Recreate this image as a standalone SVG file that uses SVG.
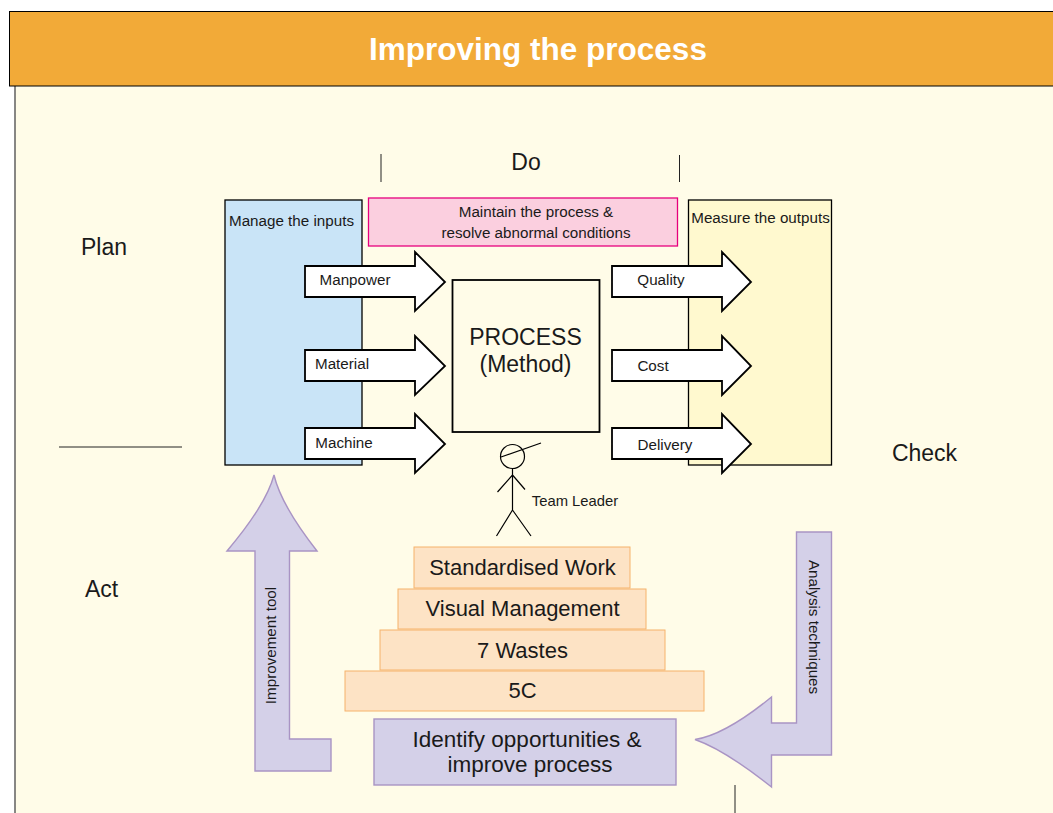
<svg xmlns="http://www.w3.org/2000/svg" width="1053" height="813" viewBox="0 0 1053 813">
<style>
text{font-family:"Liberation Sans",Arial,sans-serif;fill:#1a1a1a;text-anchor:middle}
.big{font-size:23px}
.mid{font-size:22px}
.lab{font-size:15.2px}
.sm{font-size:15.2px}
.arrow{fill:#fff;stroke:#000;stroke-width:1.800}
.step{fill:#fde3c5;stroke:#f6b26b;stroke-width:1}
.pur{fill:#d4d0e8;stroke:#a994c4;stroke-width:1.400}
.ln{fill:none;stroke:#000;stroke-width:1.2}
</style>
<rect width="1053" height="813" fill="#fff"/>
<g id="background">
<rect x="15" y="86" width="1038" height="727" fill="#fffce8"/>
<line x1="15" y1="86" x2="15" y2="813" stroke="#555" stroke-width="1.4"/>
</g>
<g id="header">
<rect x="9.500" y="11.500" width="1050" height="74.500" fill="#f2aa38" stroke="#000" stroke-width="1"/>
<text x="538" y="60" font-size="31.500" font-weight="700" style="fill:#fff">Improving the process</text>
</g>
<g id="pdca-labels">
<text class="big" x="104" y="255">Plan</text>
<text class="big" x="526" y="170">Do</text>
<text class="big" x="924.500" y="461">Check</text>
<text class="big" x="101.500" y="597">Act</text>
<line x1="381" y1="154" x2="381" y2="182" stroke="#222" stroke-width="1"/>
<line x1="679.500" y1="155" x2="679.500" y2="182" stroke="#222" stroke-width="1"/>
<line x1="59" y1="447" x2="182" y2="447" stroke="#222" stroke-width="1"/>
<line x1="735" y1="785" x2="735" y2="813" stroke="#222" stroke-width="1"/>
</g>
<g id="inputs">
<rect x="225" y="200" width="137" height="265" fill="#c9e4f7" stroke="#000" stroke-width="1.3"/>
<text class="lab" x="291.500" y="226">Manage the inputs</text>
</g>
<g id="maintain">
<rect x="368.500" y="198" width="309" height="48" fill="#fbcfdf" stroke="#e6007e" stroke-width="1.3"/>
<text class="lab" x="536" y="217">Maintain the process &amp;</text>
<text class="lab" x="536" y="238">resolve abnormal conditions</text>
</g>
<g id="outputs">
<rect x="688.500" y="200" width="143" height="265" fill="#fff9cf" stroke="#000" stroke-width="1.3"/>
<text class="lab" x="760.500" y="223">Measure the outputs</text>
</g>
<g id="process">
<rect x="452.500" y="280" width="147" height="152" fill="#fffce8" stroke="#000" stroke-width="1.800"/>
<text class="big" x="525.500" y="345">PROCESS</text>
<text class="big" x="525.500" y="372">(Method)</text>
</g>
<g id="connectors">
<path id="a1" class="arrow" d="M305 266H415V252L445 282L415 311V297H305Z"/>
<path id="a2" class="arrow" d="M305 350H415V336L445 366L415 395V381H305Z"/>
<path id="a3" class="arrow" d="M305 428H415V414L445 444L415 473V459H305Z"/>
<path id="a4" class="arrow" d="M612 266H722V252L751 282L722 311V297H612Z"/>
<path id="a5" class="arrow" d="M612 350H722V336L751 366L722 395V381H612Z"/>
<path id="a6" class="arrow" d="M612 428H722V414L751 444L722 473V459H612Z"/>
</g>
<g id="arrow-labels">
<text class="lab" x="355" y="285">Manpower</text>
<text class="lab" x="342" y="369">Material</text>
<text class="lab" x="344" y="448">Machine</text>
<text class="lab" x="661" y="285">Quality</text>
<text class="lab" x="653" y="371">Cost</text>
<text class="lab" x="665" y="450">Delivery</text>
</g>
<g id="team-leader">
<circle class="ln" cx="512.500" cy="456.500" r="12"/>
<path class="ln" d="M501 457L541 443M512.500 468.500V510M512.500 475L497.500 492M512.500 475L525 489.500M512.500 510L496.500 536M512.500 510L531 536"/>
<text class="sm" x="575" y="506" style="font-size:14.800px">Team Leader</text>
</g>
<g id="step-standard">
<rect class="step" x="414" y="547" width="216" height="41"/>
<text class="mid" x="522.500" y="574.500">Standardised Work</text>
</g>
<g id="step-visual">
<rect class="step" x="398" y="589" width="248" height="40"/>
<text class="mid" x="522.500" y="615.500">Visual Management</text>
</g>
<g id="step-wastes">
<rect class="step" x="380" y="630" width="285" height="40"/>
<text class="mid" x="522.500" y="657.500">7 Wastes</text>
</g>
<g id="step-5c">
<rect class="step" x="345" y="671" width="359" height="40"/>
<text class="mid" x="522.500" y="698">5C</text>
</g>
<g id="identify">
<rect x="374" y="719" width="302" height="66" fill="#d4d0e8" stroke="#a994c4" stroke-width="1.4"/>
<text class="mid" x="527" y="746.500" style="font-size:22.500px">Identify opportunities &amp;</text>
<text class="mid" x="530" y="771.500" style="font-size:22.500px">improve process</text>
</g>
<g id="improvement-tool">
<path class="pur" d="M255 771V551H227Q266 505 274 475Q281 505 317 551H289.500V739H331V771Z"/>
<text class="sm" transform="translate(276 645.500) rotate(-90)">Improvement tool</text>
</g>
<g id="analysis-techniques">
<path class="pur" d="M796.500 532H831.500V755H771.500V787Q725 750 695 739.500Q725 735 771.500 697V723H796.500Z"/>
<text class="sm" transform="translate(809 627) rotate(90)">Analysis techniques</text>
</g>
</svg>
